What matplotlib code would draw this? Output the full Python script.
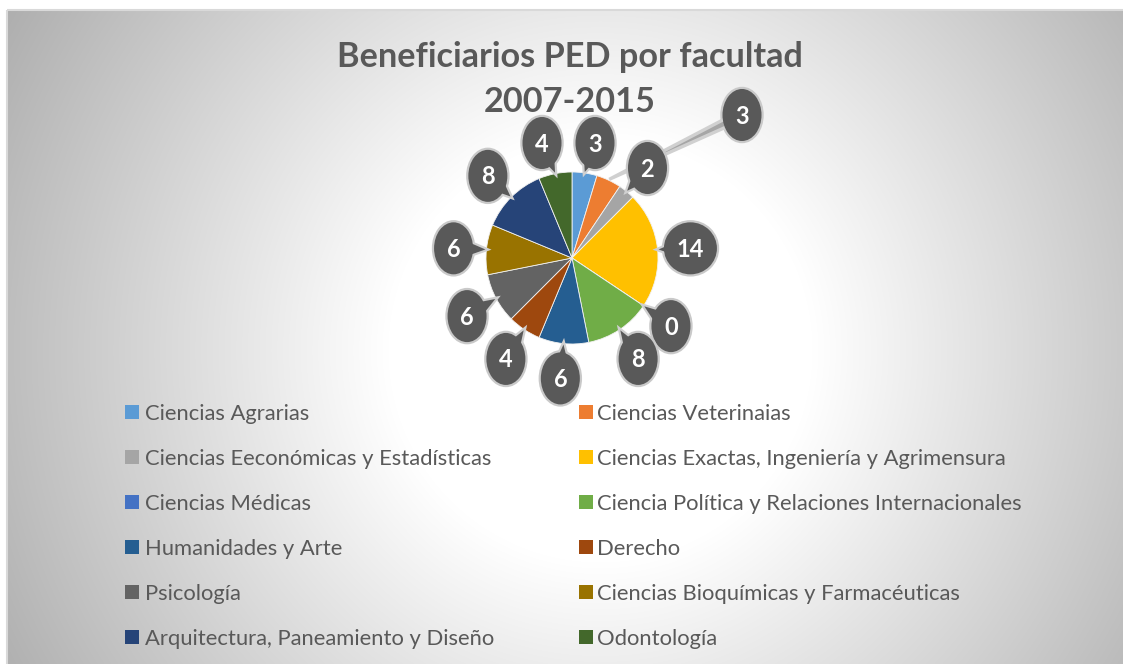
import numpy as np
import matplotlib
matplotlib.use("Agg")
import matplotlib.pyplot as plt
from matplotlib.patches import Ellipse, Polygon, Rectangle

# ---------------- data ----------------
categories = [
    "Ciencias Agrarias",
    "Ciencias Veterinaias",
    "Ciencias Eeconómicas y Estadísticas",
    "Ciencias Exactas, Ingeniería y Agrimensura",
    "Ciencias Médicas",
    "Ciencia Política y Relaciones Internacionales",
    "Humanidades y Arte",
    "Derecho",
    "Psicología",
    "Ciencias Bioquímicas y Farmacéuticas",
    "Arquitectura, Paneamiento y Diseño",
    "Odontología",
]
values = [3, 3, 2, 14, 0, 8, 6, 4, 6, 6, 8, 4]
colors = ["#5B9BD5", "#ED7D31", "#A5A5A5", "#FFC000", "#4472C4", "#70AD47",
          "#255E91", "#9E480E", "#636363", "#997300", "#264478", "#43682B"]
title_lines = ["Beneficiarios PED por facultad", "2007-2015"]

# ---------------- layout ----------------
W, H = 1123, 664
FONT = "Lato"
TXT = "#595959"
plt.rcParams["font.family"] = [FONT, "DejaVu Sans"]

fig = plt.figure(figsize=(W / 100, H / 100), dpi=100)
ax = fig.add_axes([0, 0, 1, 1])
renderer = fig.canvas.get_renderer()

# background radial gradient inside chart frame
fx0, fy0 = 7, 10
yy, xx = np.mgrid[fy0:H, fx0:W].astype(float)
r = np.hypot(xx - 600, yy - 350)
v = np.clip(1.142 - 0.00067 * r, 0, 1)
img = np.dstack([v, v, v])
ax.imshow(img, extent=(fx0, W, H, fy0), origin="upper", zorder=0,
          interpolation="bilinear")
ax.add_patch(Rectangle((fx0, fy0), W - fx0 + 5, H - fy0 + 5, fill=False,
                       edgecolor="#d9d9d9", lw=1.5, zorder=1))

# pie (y axis inverted -> startangle -90 & counterclock gives clockwise from top)
cx, cy, R = 572, 258, 86
wedges, _ = ax.pie(values, colors=colors, startangle=-90, counterclock=True,
                   center=(cx, cy), radius=R,
                   wedgeprops=dict(edgecolor="#f2f2f2", linewidth=0.6))
for w_ in wedges:
    w_.set_zorder(3)

total = float(sum(values))
cum = np.cumsum([0] + values[:-1])
label_r = 119
# label positions moved by the layout (pixel positions of the callouts)
overrides = {0: (595, 143), 1: (742, 115), 11: (542, 143)}

z = 10
for i, val in enumerate(values):
    a = np.deg2rad((cum[i] + val / 2.0) / total * 360.0)
    ux, uy = np.sin(a), -np.cos(a)
    if i in overrides:
        lx, ly = overrides[i]
    else:
        lx, ly = cx + label_r * ux, cy + 2 + label_r * uy
    tipx, tipy = cx + (R + 1) * ux, cy + (R + 1) * uy
    s = str(val)
    bw = 39 if len(s) == 1 else 53
    bh = 52
    dx, dy = tipx - lx, tipy - ly
    dist = np.hypot(dx, dy)
    ex, ey = dx / dist, dy / dist
    px, py = -ey, ex
    leader = i == 1
    if leader:
        bxc, byc, hw = lx, ly, 4.5
    else:
        bxc, byc, hw = lx + 14 * ex, ly + 14 * ey, 7
    tri = [(bxc + hw * px, byc + hw * py), (bxc - hw * px, byc - hw * py), (tipx, tipy)]
    # outline layer
    ax.add_patch(Ellipse((lx, ly), bw, bh, facecolor="#595959",
                         edgecolor="#c9c9c9", lw=3.2, zorder=z))
    ax.add_patch(Polygon(tri, closed=True,
                         facecolor="#a6a6a6" if leader else "#595959",
                         edgecolor="#d0d0d0", lw=2.4 if leader else 3.2,
                         joinstyle="miter", zorder=z))
    # fill layer
    if not leader:
        ax.add_patch(Polygon(tri, closed=True, facecolor="#595959",
                             edgecolor="none", zorder=z + 1))
    ax.add_patch(Ellipse((lx, ly), bw, bh, facecolor="#595959",
                         edgecolor="none", zorder=z + 1))
    ax.text(lx, ly + 1, s, color="white", fontsize=17, fontweight="bold",
            ha="center", va="center", zorder=z + 2)
    z += 3

# title
t1 = ax.text(570, 67, title_lines[0], color=TXT, fontsize=22, fontweight="bold",
             ha="center", va="baseline", zorder=5)
w1 = t1.get_window_extent(renderer).width
tsize = 22 * 465.0 / w1
t1.set_fontsize(tsize)
ax.text(570, 112, title_lines[1], color=TXT, fontsize=tsize, fontweight="bold",
        ha="center", va="baseline", zorder=5)

# legend (row-major, two columns)
probe = ax.text(0, 0, categories[5], fontsize=14)
lw_ = probe.get_window_extent(renderer).width
lsize = 14 * 427.0 / lw_
probe.remove()
col_sq_x = [125, 579]
col_tx_x = [145, 597]
row0, step, sq = 405, 45, 14
for i, (cat, colr) in enumerate(zip(categories, colors)):
    row, col = divmod(i, 2)
    y0 = row0 + row * step
    ax.add_patch(Rectangle((col_sq_x[col], y0), sq, sq, facecolor=colr,
                           edgecolor="none", zorder=5))
    ax.text(col_tx_x[col], y0 + sq + 1, cat, color=TXT, fontsize=lsize,
            ha="left", va="baseline", zorder=5)

ax.set_xlim(0, W)
ax.set_ylim(H, 0)
ax.set_aspect("equal")
ax.axis("off")
fig.patch.set_facecolor("white")
fig.savefig("out.png", dpi=100, facecolor="white")
